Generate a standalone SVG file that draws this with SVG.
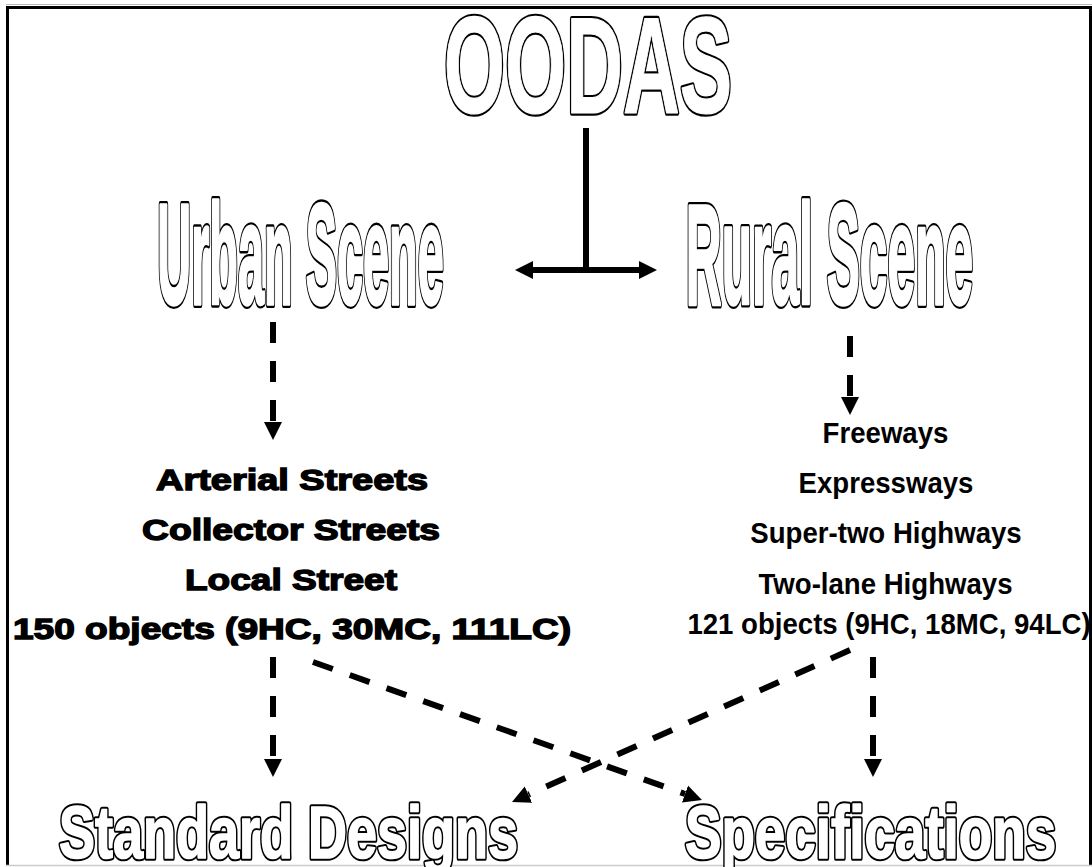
<svg xmlns="http://www.w3.org/2000/svg" width="1092" height="867" viewBox="0 0 1092 867">
  <style>
    .hollow { font-family: "Liberation Sans", Arial, sans-serif; font-weight: bold; text-anchor: middle; vector-effect: non-scaling-stroke; stroke-linejoin: round; }
    .rim { fill: #000; stroke: #000; }
    .core { fill: #fff; stroke: #fff; }
    .heavy { font-family: "Liberation Sans", Arial, sans-serif; font-weight: bold; font-size: 30px; fill: #000; stroke: #000; stroke-width: 1.4; text-anchor: middle; }
    .narrow { font-family: "Liberation Sans", Arial, sans-serif; font-weight: bold; font-size: 30px; fill: #000; text-anchor: middle; }
    .solid { stroke: #000; stroke-width: 6; fill: none; }
    .dash { stroke: #000; stroke-width: 6; fill: none; stroke-dasharray: 21 18; }
  </style>
  <defs>
    <marker id="head" viewBox="0 -10 20 20" markerUnits="userSpaceOnUse" markerWidth="20" markerHeight="20" refX="0" refY="0" orient="auto">
      <path d="M0,-9 L18,0 L0,9 z" fill="#000" stroke="none"/>
    </marker>
  </defs>

  <rect width="1092" height="867" fill="#fff"/>

  <!-- page frame -->
  <g id="frame">
    <line x1="6" y1="4.5" x2="1092" y2="4.5" stroke="#bbb" stroke-width="1"/>
    <line x1="6" y1="7.5" x2="1092" y2="7.5" stroke="#000" stroke-width="3"/>
    <line x1="7.5" y1="6" x2="7.5" y2="865" stroke="#000" stroke-width="3"/>
    <line x1="1090.5" y1="6" x2="1090.5" y2="865" stroke="#000" stroke-width="3"/>
    <line x1="6" y1="865.5" x2="1092" y2="865.5" stroke="#ccc" stroke-width="1.5"/>
  </g>

  <!-- connectors -->
  <g id="connectors">
    <line class="solid" x1="586" y1="128" x2="586" y2="273"/>
    <line class="solid" x1="583" y1="270" x2="639" y2="270" marker-end="url(#head)"/>
    <line class="solid" x1="589" y1="270" x2="533" y2="270" marker-end="url(#head)"/>
    <line class="dash" x1="273" y1="322" x2="273" y2="422" marker-end="url(#head)"/>
    <line class="dash" x1="850" y1="336" x2="850" y2="397" stroke-dasharray="24 18" marker-end="url(#head)"/>
    <line class="dash" x1="273" y1="657" x2="273" y2="759" marker-end="url(#head)"/>
    <line class="dash" x1="873" y1="657" x2="873" y2="759" marker-end="url(#head)"/>
    <line class="dash" x1="313" y1="662" x2="685" y2="794" marker-end="url(#head)"/>
    <line class="dash" x1="850" y1="650" x2="528.4" y2="794.6" marker-end="url(#head)"/>
  </g>

  <!-- outlined headings: a black rim layer under a white core layer -->
  <g id="oodas" font-size="138" transform="translate(588,113) scale(0.57,1)">
    <text class="hollow rim" stroke-width="4.5">OODAS</text>
    <text class="hollow core" stroke-width="1">OODAS</text>
  </g>

  <g id="urban-scene" font-size="142" transform="translate(300.5,304) scale(0.330,1)">
    <text class="hollow rim" stroke-width="6">Urban Scene</text>
    <text class="hollow core" stroke-width="2.5">Urban Scene</text>
  </g>

  <g id="rural-scene" font-size="142" transform="translate(829.5,304) scale(0.350,1)">
    <text class="hollow rim" stroke-width="6">Rural Scene</text>
    <text class="hollow core" stroke-width="2.5">Rural Scene</text>
  </g>

  <g id="urban-roads">
    <text class="heavy" x="292" y="490" textLength="272" lengthAdjust="spacingAndGlyphs">Arterial Streets</text>
    <text class="heavy" x="291" y="540" textLength="298" lengthAdjust="spacingAndGlyphs">Collector Streets</text>
    <text class="heavy" x="291" y="590" textLength="212" lengthAdjust="spacingAndGlyphs">Local Street</text>
    <text class="heavy" x="292" y="639" textLength="558" lengthAdjust="spacingAndGlyphs">150 objects (9HC, 30MC, 111LC)</text>
  </g>

  <g id="rural-roads">
    <text class="narrow" transform="translate(885.5,443) scale(0.92,1)">Freeways</text>
    <text class="narrow" transform="translate(886,493) scale(0.92,1)">Expressways</text>
    <text class="narrow" transform="translate(886,543) scale(0.92,1)">Super-two Highways</text>
    <text class="narrow" transform="translate(885.5,594) scale(0.92,1)">Two-lane Highways</text>
    <text class="narrow" transform="translate(889,634) scale(0.92,1)">121 objects (9HC, 18MC, 94LC)</text>
  </g>

  <g id="standard-designs" font-size="74" transform="translate(288.5,858) scale(0.73,1)">
    <text class="hollow rim" stroke-width="5">Standard Designs</text>
    <text class="hollow core" stroke-width="1.5">Standard Designs</text>
  </g>

  <g id="specifications" font-size="74" transform="translate(870.5,858) scale(0.74,1)">
    <text class="hollow rim" stroke-width="5">Specifications</text>
    <text class="hollow core" stroke-width="1.5">Specifications</text>
  </g>
</svg>
